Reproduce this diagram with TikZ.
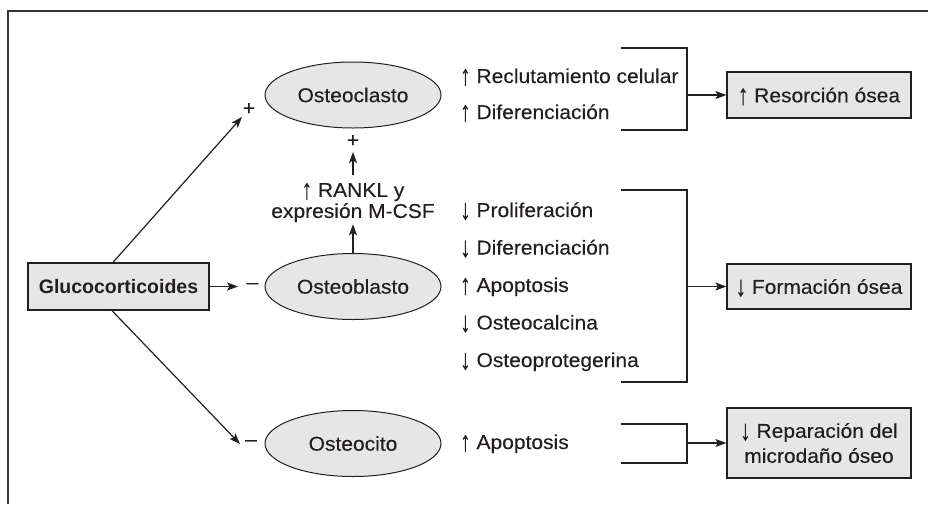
\documentclass[tikz,border=0pt]{standalone}
\usepackage{fontspec}
\usepackage{graphicx}
\setmainfont[FakeStretch=1.05,FakeBold=0.25]{Liberation Sans}
\newfontfamily\gfont{Liberation Sans}
\usetikzlibrary{shapes.geometric,arrows.meta,calc}
\definecolor{fillg}{RGB}{230,230,230}
\definecolor{ink}{RGB}{35,31,32}
\newcommand\myup{\raisebox{-3pt}[14pt][0pt]{\resizebox*{\width}{17pt}{\raisebox{\depth}{↑}}}}
\newcommand\mydn{\raisebox{-3pt}[14pt][0pt]{\resizebox*{\width}{17pt}{\raisebox{\depth}{↓}}}}
\begin{document}
\begin{tikzpicture}[x=1pt,y=-1pt,
  every node/.style={font=\fontsize{20}{21}\selectfont, text=ink, inner sep=0pt},
  cell/.style={ellipse, draw=ink, line width=1pt, fill=fillg, minimum width=176pt, minimum height=66pt},
  resbox/.style={rectangle, draw=ink, line width=1.2pt, fill=fillg, minimum width=184pt, align=center},
  arr/.style={draw=ink, line width=1.2pt, -{Stealth[length=11pt,width=8pt,inset=2.5pt]}},
  brk/.style={draw=ink, line width=1.2pt},
  item/.style={anchor=base west}]
\useasboundingbox (0,0) rectangle (928,504);
% frame (cropped)
\draw[draw=ink!90, line width=2pt] (7.5,504) -- (7.5,10.5) -- (928,10.5);

% main nodes
\node[draw=ink, line width=1.2pt, fill=fillg, minimum width=181pt, minimum height=47pt,
      font=\gfont\bfseries\fontsize{19.5}{21}\selectfont] (gluco) at (118.5,286.5) {Glucocorticoides};
\node[cell] (oc) at (353,95) {Osteoclasto};
\node[cell] (ob) at (353,286.5) {Osteoblasto};
\node[cell] (ot) at (353,443.5) {Osteocito};

% signs
\node (p1) at (249,109) {+};
\node (m2) at (252.5,286) {–};
\node (m3) at (251,443) {–};
\node (p2) at (353,141) {+};

% RANKL text
\node[align=center] (rankl) at (353,202.5) {\myup{} RANKL y\\expresión M-CSF};

% arrows from glucocorticoides
\coordinate (t1) at (242,117);
\coordinate (t2) at (238,286.5);
\coordinate (t3) at (240,444);
\draw[arr] ([xshift=-5.5pt]gluco.north) -- (t1);
\draw[arr] (gluco.east) -- (t2);
\draw[arr] ([xshift=-6.5pt]gluco.south) -- (t3);

% vertical arrows
\draw[arr, shorten >=2pt] (ob.north) -- (rankl.south);
\draw[arr, shorten <=8pt, shorten >=5pt] (rankl.north) -- (p2.south);

% lists
\node[item] (l1) at (460,83) {\myup{} Reclutamiento celular};
\node[item] (l2) at (460,119) {\myup{} Diferenciación};
\node[item] (l3) at (460,217) {\mydn{} Proliferación};
\node[item] (l4) at (460,254.5) {\mydn{} Diferenciación};
\node[item] (l5) at (460,292) {\myup{} Apoptosis};
\node[item] (l6) at (460,329.5) {\mydn{} Osteocalcina};
\node[item] (l7) at (460,367) {\mydn{} Osteoprotegerina};
\node[item] (l8) at (460,449) {\myup{} Apoptosis};

% brackets
\draw[brk] (621,48) -- (687,48) -- (687,130) -- (621,130);
\draw[brk] (621,190) -- (687,190) -- (687,382) -- (621,382);
\draw[brk] (621,424) -- (687,424) -- (687,463) -- (621,463);

% result boxes
\node[resbox, minimum height=46pt] (res) at (819,95) {\myup{} Resorción ósea};
\node[resbox, minimum height=45pt] (form) at (819,286.5) {\mydn{} Formación ósea};
\node[resbox, minimum height=70pt, font=\fontsize{20}{25}\selectfont] (rep) at (819,443) {\mydn{} Reparación del\\microdaño óseo};

\coordinate (k1) at (687,95);
\coordinate (k2) at (687,286.5);
\coordinate (k3) at (687,443);
\draw[arr] (k1) -- (res.west);
\draw[arr] (k2) -- (form.west);
\draw[arr] (k3) -- (rep.west);
\end{tikzpicture}
\end{document}
